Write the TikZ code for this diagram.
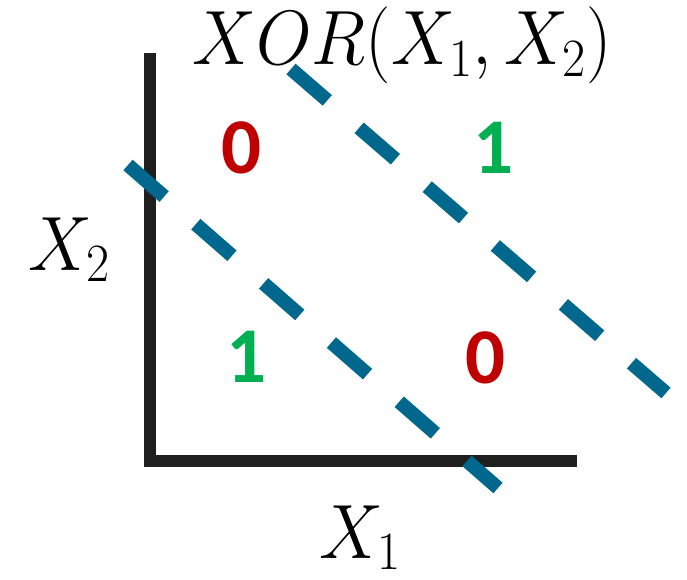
\RequirePackage{fix-cm}
\documentclass[tikz,border=0pt]{standalone}
\usepackage{fontspec}
\newfontfamily\digitfont{Carlito}
\newcommand{\narrowmath}[1]{\scalebox{0.93}[1]{$#1$}}
\definecolor{axisblack}{RGB}{31,31,31}
\definecolor{sepblue}{RGB}{0,104,140}
\definecolor{zerored}{RGB}{192,0,0}
\definecolor{onegreen}{RGB}{0,176,80}
\begin{document}
\begin{tikzpicture}[x=1pt,y=-1pt,
  axisline/.style={draw=axisblack,line width=12pt,line join=miter},
  sepline/.style={draw=sepblue,line width=14pt,dash pattern=on 48pt off 42pt},
  mathlabel/.style={inner sep=0pt,anchor=base,font=\fontsize{77}{80}\selectfont},
  digit/.style={inner sep=0pt,anchor=base,font=\digitfont\bfseries\fontsize{79}{80}\selectfont},
  zero/.style={digit,text=zerored},
  one/.style={digit,text=onegreen}]
\useasboundingbox (0,0) rectangle (687,580);
% axes
\coordinate (ytop) at (150,53);
\coordinate (origin) at (150,461);
\coordinate (xend) at (577,461);
\draw[axisline] (ytop) -- (origin) -- (xend);
% separating lines
\coordinate (a1) at (128,165);
\coordinate (a2) at (498,488);
\coordinate (b1) at (291,69);
\coordinate (b2) at (666,393);
\draw[sepline] (a1) -- (a2);
\draw[sepline] (b1) -- (b2);
% labels
\node[mathlabel] (title) at (402,65) {\narrowmath{XOR(X_1,X_2)}};
\node[mathlabel] (xtwo) at (69,270) {\narrowmath{X_2}};
\node[mathlabel] (xone) at (360,558) {\narrowmath{X_1}};
% values
\node[zero] (v00) at (242,174) {0};
\node[one] (v10) at (494,173) {1};
\node[one] (v01) at (247,382) {1};
\node[zero] (v11) at (486,383) {0};
\end{tikzpicture}
\end{document}
